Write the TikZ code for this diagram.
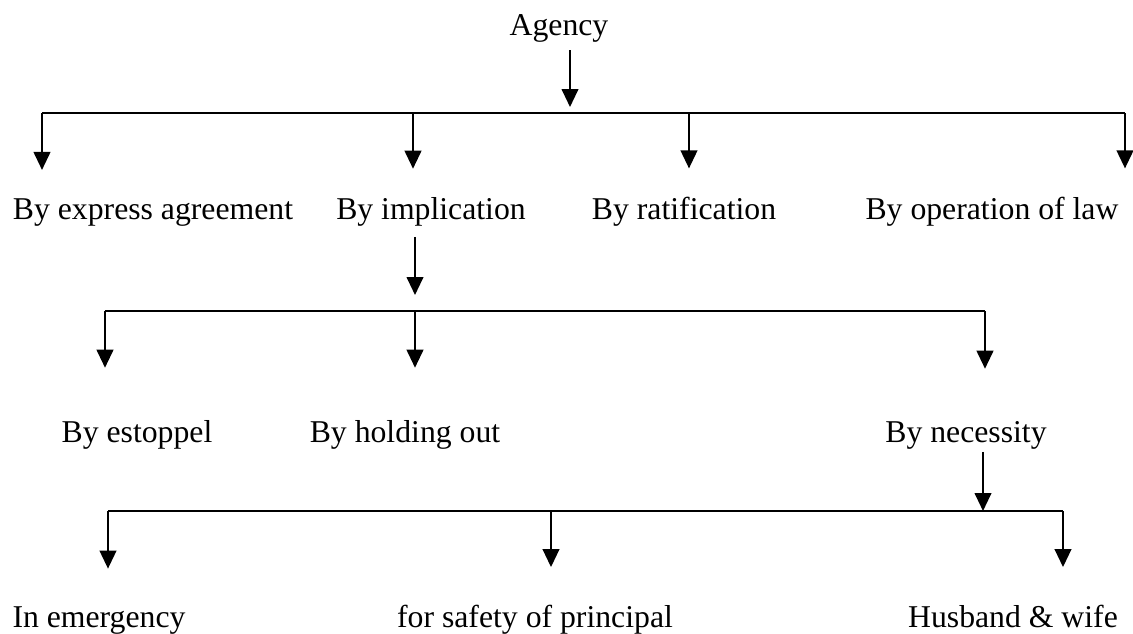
\documentclass[tikz,border=0pt]{standalone}
\usepackage{fontspec}
\setmainfont{Liberation Serif}
\usetikzlibrary{arrows.meta}
\begin{document}
\begin{tikzpicture}[x=0.75pt,y=-0.75pt,
    lbl/.style={inner sep=0pt,anchor=base,font=\fontsize{23.8}{28}\selectfont},
    arr/.style={line width=1.5pt,-{Triangle[length=13.5pt,width=12.5pt]}},
    bar/.style={line width=1.2pt}]
    \useasboundingbox (0,0) rectangle (1133,633);
    % labels
    \node[lbl] (agency) at (559,35) {Agency};
    \node[lbl] (express) at (153,219) {By express agreement};
    \node[lbl] (implication) at (431,219) {By implication};
    \node[lbl] (ratification) at (684,219) {By ratification};
    \node[lbl] (operation) at (992,219) {By operation of law};
    \node[lbl] (estoppel) at (137,442) {By estoppel};
    \node[lbl] (holding) at (405,442) {By holding out};
    \node[lbl] (necessity) at (966,442) {By necessity};
    \node[lbl] (emergency) at (99,627) {In emergency};
    \node[lbl] (safety) at (535,627) {for safety of principal};
    \node[lbl] (husband) at (1013,627) {Husband \& wife};
    % first level
    \path (570,113) coordinate (b1j) (42,113) coordinate (b1a) (413,113) coordinate (b1b)
          (689,113) coordinate (b1c) (1125,113) coordinate (b1d);
    \draw[bar] (b1a) -- (b1d);
    \draw[arr,shorten <=6pt,shorten >=4.5pt] (agency.south -| b1j) -- (b1j);
    \foreach \c/\n in {b1a/express,b1b/implication,b1c/ratification,b1d/operation}
        \draw[arr,shorten >=21pt] (\c) -- (\n.north -| \c);
    % second level
    \path (415,311) coordinate (b2j) (105,311) coordinate (b2a) (415,311) coordinate (b2b)
          (985,311) coordinate (b2c);
    \draw[bar] (b2a) -- (b2c);
    \draw[arr,shorten <=8pt,shorten >=12pt] (implication.south -| b2j) -- (b2j);
    \foreach \c/\n in {b2a/estoppel,b2b/holding,b2c/necessity}
        \draw[arr,shorten >=39pt] (\c) -- (\n.north -| \c);
    % third level
    \path (983,511) coordinate (b3j) (108,511) coordinate (b3a) (551,511) coordinate (b3b)
          (1063,511) coordinate (b3c);
    \draw[bar] (b3a) -- (b3c);
    \draw[arr,shorten <=2pt] (necessity.south -| b3j) -- (b3j);
    \foreach \c/\n in {b3a/emergency,b3b/safety,b3c/husband}
        \draw[arr,shorten >=28pt] (\c) -- (\n.north -| \c);
\end{tikzpicture}
\end{document}
